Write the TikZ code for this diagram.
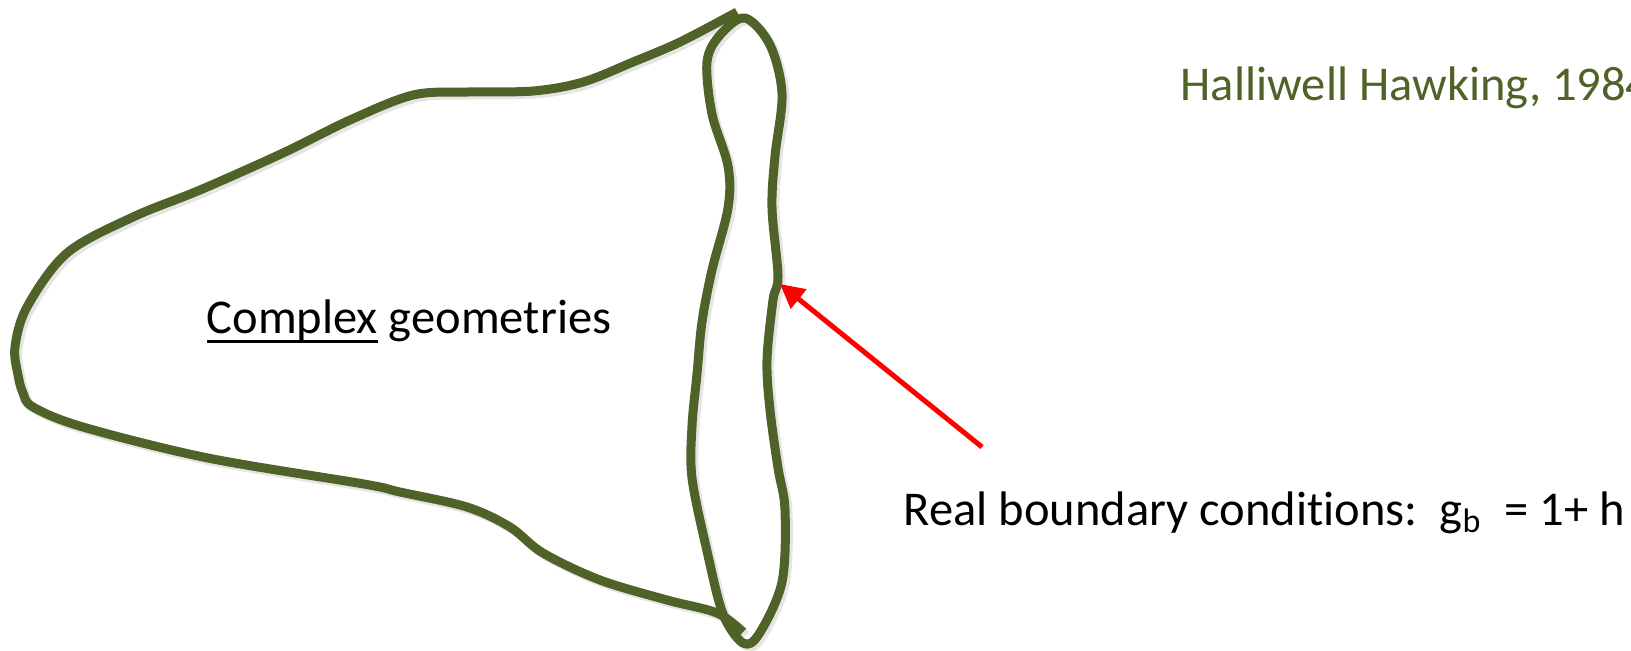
\documentclass[tikz,border=0pt]{standalone}
\usepackage{fontspec}
\setmainfont{Carlito}[Ligatures=NoCommon]
\usetikzlibrary{arrows.meta}
\definecolor{olivedk}{HTML}{4F6228}
\definecolor{arrowred}{HTML}{FF0000}
\newcommand\myulword[1]{\setbox0\hbox{#1}\rlap{\rule[-0.2em]{\wd0}{0.06em}}\box0\relax}
\begin{document}
\begin{tikzpicture}[x=0.01cm,y=-0.01cm,
  curve/.style={draw=olivedk, line width=0.09cm, line join=round},
  shade/.style={draw=black, opacity=0.1, line width=0.09cm, line join=round},
  label/.style={font=\fontsize{13.8}{16}\selectfont, inner sep=0pt, anchor=base west}]
\useasboundingbox (0,0) rectangle (1631,650);
\clip (0,0) rectangle (1631,650);
\def\outerpts{(737,12) (680,42) (633,62) (583,82) (533,91) (467,92) (413,95) (350,120) (283,153) (200,190) (133,217) (67,253) (27,307) (15,347) (18,375) (23,393) (33,407) (83,427) (208,458) (364,484) (400,492) (467,507) (510,527) (543,553) (600,580) (667,600) (717,613) (743,632)}
\def\looppts{(745,18) (720,35) (707,62) (712,114) (728,166) (728,208) (712,270) (702,322) (697,374) (692,426) (692,478) (707,551) (723,614) (743,643) (759,634) (782,582) (785,510) (778,468) (770,410) (767,360) (773,300) (778,276) (772,208) (775,156) (782,94) (770,45)}
% shadows
\begin{scope}[shift={(3,3)}]
\draw[shade] plot[smooth, tension=0.55] coordinates {\outerpts};
\draw[shade] plot[smooth cycle, tension=0.55] coordinates {\looppts};
\end{scope}
% curves
\draw[curve] plot[smooth, tension=0.55] coordinates {\outerpts};
\draw[curve] plot[smooth cycle, tension=0.55] coordinates {\looppts};
% texts
\node[label] (cg) at (206,333) {\myulword{Complex} geometries};
\node[label, text=olivedk] (hh) at (1180,100) {Halliwell Hawking, 1984};
\node[label] (rb) at (903,525) {Real boundary conditions:\ \ g\textsubscript{b}\ \ = 1+ h};
\coordinate (tail) at (982,447);
\coordinate (tip) at (780,284);
\draw[arrowred, line width=0.05cm, -{Triangle[length=0.24cm,width=0.24cm]}] (tail) -- (tip);
\end{tikzpicture}
\end{document}
